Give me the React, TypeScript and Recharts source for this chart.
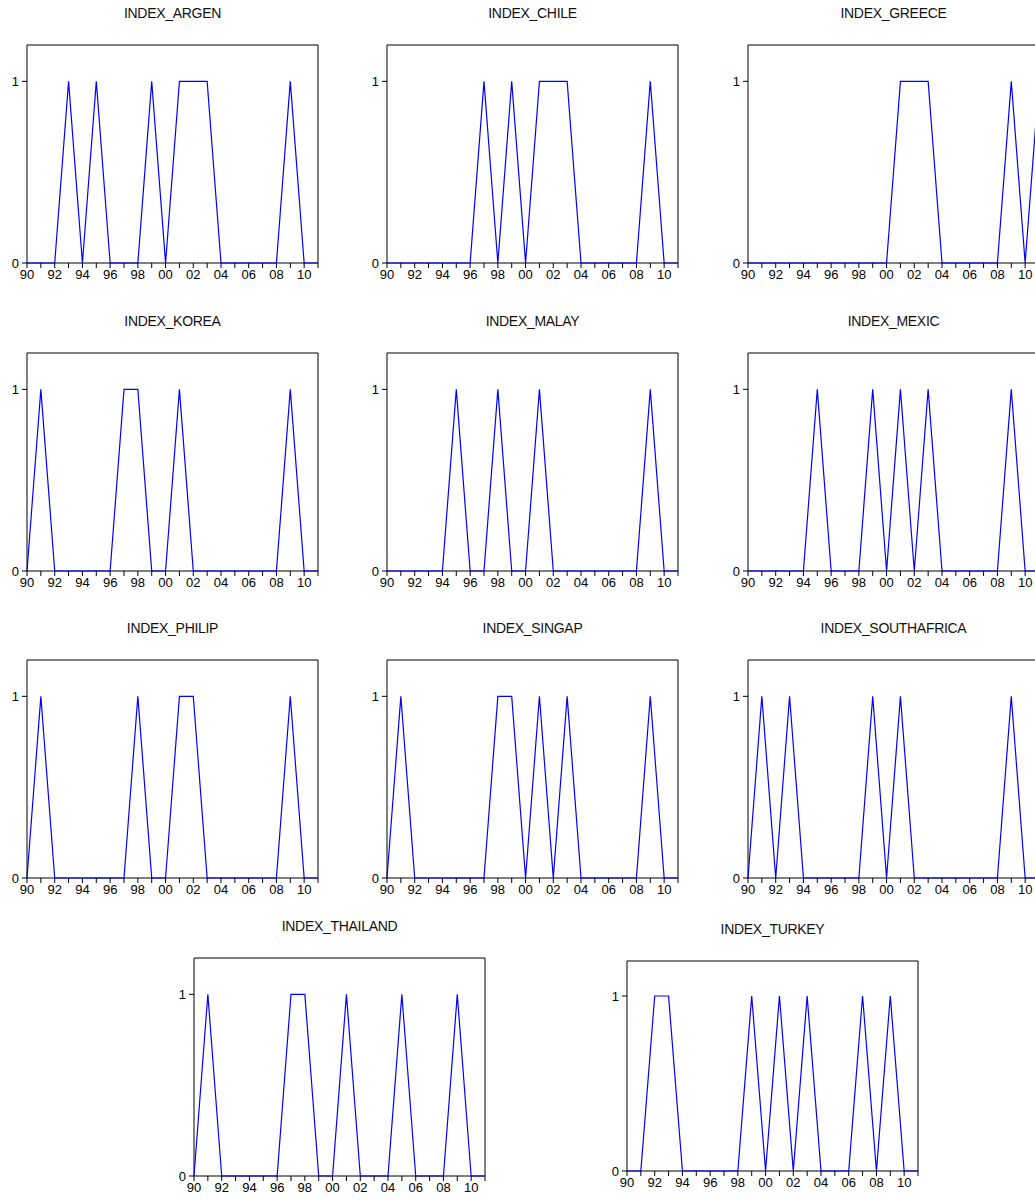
import React from "react";
import { LineChart, Line, XAxis, YAxis, ReferenceArea } from "recharts";

// annual observations, 1990 .. 2011
const YEARS = [
  1990, 1991, 1992, 1993, 1994, 1995, 1996, 1997, 1998, 1999, 2000,
  2001, 2002, 2003, 2004, 2005, 2006, 2007, 2008, 2009, 2010, 2011,
];
const Y_TICKS = [0, 1];

const ARGEN = [0, 0, 0, 1, 0, 1, 0, 0, 0, 1, 0, 1, 1, 1, 0, 0, 0, 0, 0, 1, 0, 0];
const CHILE = [0, 0, 0, 0, 0, 0, 0, 1, 0, 1, 0, 1, 1, 1, 0, 0, 0, 0, 0, 1, 0, 0];
const GREECE = [0, 0, 0, 0, 0, 0, 0, 0, 0, 0, 0, 1, 1, 1, 0, 0, 0, 0, 0, 1, 0, 1];
const KOREA = [0, 1, 0, 0, 0, 0, 0, 1, 1, 0, 0, 1, 0, 0, 0, 0, 0, 0, 0, 1, 0, 0];
const MALAY = [0, 0, 0, 0, 0, 1, 0, 0, 1, 0, 0, 1, 0, 0, 0, 0, 0, 0, 0, 1, 0, 0];
const MEXIC = [0, 0, 0, 0, 0, 1, 0, 0, 0, 1, 0, 1, 0, 1, 0, 0, 0, 0, 0, 1, 0, 0];
const PHILIP = [0, 1, 0, 0, 0, 0, 0, 0, 1, 0, 0, 1, 1, 0, 0, 0, 0, 0, 0, 1, 0, 0];
const SINGAP = [0, 1, 0, 0, 0, 0, 0, 0, 1, 1, 0, 1, 0, 1, 0, 0, 0, 0, 0, 1, 0, 0];
const SOUTHAFRICA = [0, 1, 0, 1, 0, 0, 0, 0, 0, 1, 0, 1, 0, 0, 0, 0, 0, 0, 0, 1, 0, 0];
const THAILAND = [0, 1, 0, 0, 0, 0, 0, 1, 1, 0, 0, 1, 0, 0, 0, 1, 0, 0, 0, 1, 0, 0];
const TURKEY = [0, 0, 1, 1, 0, 0, 0, 0, 0, 1, 0, 1, 0, 1, 0, 0, 0, 1, 0, 1, 0, 0];

const FONT = "'Liberation Sans', Arial, Helvetica, sans-serif";
const PLOT_W = 291;
const ML = 40; // space left of the box (y axis)
const MT = 40; // space above the box (title)

type PanelProps = {
  title: string;
  values: number[];
  left: number;
  top: number;
  plotH: number;
};

const Panel: React.FC<PanelProps> = ({ title, values, left, top, plotH }) => {
  const data = YEARS.map((year, i) => ({ year, v: values[i] }));

  return (
    <div style={{ position: "absolute", left: left - ML, top: top - MT }}>
      <div
        style={{
          position: "absolute",
          left: ML,
          top: 0,
          width: PLOT_W,
          textAlign: "center",
          fontFamily: FONT,
          fontSize: 14,
          lineHeight: "16px",
          color: "#111",
          letterSpacing: -0.3,
        }}
      >
        {title}
      </div>
      <LineChart
        width={ML + PLOT_W + 10}
        height={MT + plotH + 25}
        data={data}
        margin={{ top: MT, left: 10, right: 10, bottom: 0 }}
      >
        <XAxis
          dataKey="year"
          type="number"
          domain={[1990, 2011]}
          ticks={YEARS}
          interval={0}
          tickFormatter={(y: number) => (y % 2 === 0 ? String(y % 100).padStart(2, "0") : "")}
          tickSize={5}
          tickMargin={2}
          axisLine={false}
          tickLine={{ stroke: "#000" }}
          tick={{ fontSize: 13, fill: "#000", fontFamily: FONT }}
          height={25}
        />
        <YAxis
          type="number"
          domain={[0, 1.2]}
          ticks={Y_TICKS}
          width={30}
          tickSize={5}
          tickMargin={3}
          axisLine={false}
          tickLine={{ stroke: "#000" }}
          tick={{ fontSize: 13, fill: "#000", fontFamily: FONT }}
        />
        <ReferenceArea
          x1={1990}
          x2={2011}
          y1={0}
          y2={1.2}
          fill="none"
          fillOpacity={0}
          stroke="#000"
          strokeWidth={1}
        />
        <Line
          type="linear"
          dataKey="v"
          stroke="#0000ff"
          strokeWidth={1.2}
          dot={false}
          activeDot={false}
          isAnimationActive={false}
        />
      </LineChart>
    </div>
  );
};

export default function App() {
  return (
    <div
      style={{
        position: "absolute",
        left: 0,
        top: 0,
        width: 1035,
        height: 1200,
        overflow: "hidden",
        background: "#fff",
      }}
    >
      <Panel title="INDEX_ARGEN" values={ARGEN} left={27} top={45} plotH={218} />
      <Panel title="INDEX_CHILE" values={CHILE} left={387} top={45} plotH={218} />
      <Panel title="INDEX_GREECE" values={GREECE} left={748} top={45} plotH={218} />

      <Panel title="INDEX_KOREA" values={KOREA} left={27} top={353} plotH={218} />
      <Panel title="INDEX_MALAY" values={MALAY} left={387} top={353} plotH={218} />
      <Panel title="INDEX_MEXIC" values={MEXIC} left={748} top={353} plotH={218} />

      <Panel title="INDEX_PHILIP" values={PHILIP} left={27} top={660} plotH={218} />
      <Panel title="INDEX_SINGAP" values={SINGAP} left={387} top={660} plotH={218} />
      <Panel title="INDEX_SOUTHAFRICA" values={SOUTHAFRICA} left={748} top={660} plotH={218} />

      <Panel title="INDEX_THAILAND" values={THAILAND} left={194} top={958} plotH={218} />
      <Panel title="INDEX_TURKEY" values={TURKEY} left={627} top={961} plotH={210} />
    </div>
  );
}
